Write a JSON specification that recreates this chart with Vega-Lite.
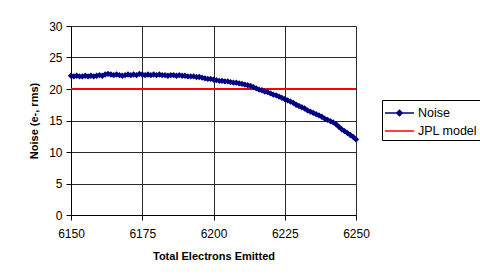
{
  "$schema": "https://vega.github.io/schema/vega-lite/v6.json",
  "autosize": {"type": "none"},
  "width": 285,
  "height": 189,
  "padding": {"left": 71, "top": 26, "right": 124, "bottom": 62},
  "background": "white",
  "config": {
    "font": "Liberation Sans",
    "view": {"stroke": null},
    "axis": {
      "labelFont": "Liberation Sans", "labelFontSize": 12, "labelColor": "#000",
      "titleFont": "Liberation Sans", "titleFontSize": 11, "titleFontWeight": "bold", "titleColor": "#000",
      "domainColor": "#000", "tickColor": "#000", "tickSize": 5,
      "gridColor": "#2a2a2a", "gridOpacity": 1, "gridWidth": 1, "labelFlush": false
    }
  },
  "datasets": {
    "noise": [
      {"x":6150,"y":22.1},{"x":6151,"y":22.0},{"x":6152,"y":22.1},{"x":6153,"y":22.0},{"x":6154,"y":22.0},
      {"x":6155,"y":22.1},{"x":6156,"y":22.0},{"x":6157,"y":22.1},{"x":6158,"y":22.0},{"x":6159,"y":22.1},
      {"x":6160,"y":22.2},{"x":6161,"y":22.1},{"x":6162,"y":22.3},{"x":6163,"y":22.4},{"x":6164,"y":22.3},
      {"x":6165,"y":22.2},{"x":6166,"y":22.3},{"x":6167,"y":22.2},{"x":6168,"y":22.1},{"x":6169,"y":22.2},
      {"x":6170,"y":22.3},{"x":6171,"y":22.2},{"x":6172,"y":22.3},{"x":6173,"y":22.2},{"x":6174,"y":22.4},
      {"x":6175,"y":22.3},{"x":6176,"y":22.2},{"x":6177,"y":22.3},{"x":6178,"y":22.2},{"x":6179,"y":22.3},
      {"x":6180,"y":22.2},{"x":6181,"y":22.3},{"x":6182,"y":22.2},{"x":6183,"y":22.2},{"x":6184,"y":22.1},
      {"x":6185,"y":22.2},{"x":6186,"y":22.2},{"x":6187,"y":22.1},{"x":6188,"y":22.2},{"x":6189,"y":22.1},
      {"x":6190,"y":22.1},{"x":6191,"y":22.0},{"x":6192,"y":22.0},{"x":6193,"y":22.0},{"x":6194,"y":21.9},
      {"x":6195,"y":21.9},{"x":6196,"y":21.8},{"x":6197,"y":21.7},{"x":6198,"y":21.6},{"x":6199,"y":21.6},
      {"x":6200,"y":21.5},{"x":6201,"y":21.4},{"x":6202,"y":21.3},{"x":6203,"y":21.3},{"x":6204,"y":21.2},
      {"x":6205,"y":21.2},{"x":6206,"y":21.1},{"x":6207,"y":21.0},{"x":6208,"y":21.0},{"x":6209,"y":20.9},
      {"x":6210,"y":20.8},{"x":6211,"y":20.7},{"x":6212,"y":20.6},{"x":6213,"y":20.5},{"x":6214,"y":20.3},
      {"x":6215,"y":20.1},{"x":6216,"y":19.9},{"x":6217,"y":19.8},{"x":6218,"y":19.6},{"x":6219,"y":19.5},
      {"x":6220,"y":19.3},{"x":6221,"y":19.1},{"x":6222,"y":19.0},{"x":6223,"y":18.8},{"x":6224,"y":18.6},
      {"x":6225,"y":18.4},{"x":6226,"y":18.2},{"x":6227,"y":18.0},{"x":6228,"y":17.8},{"x":6229,"y":17.5},
      {"x":6230,"y":17.3},{"x":6231,"y":17.1},{"x":6232,"y":16.9},{"x":6233,"y":16.6},{"x":6234,"y":16.4},
      {"x":6235,"y":16.2},{"x":6236,"y":16.0},{"x":6237,"y":15.8},{"x":6238,"y":15.6},{"x":6239,"y":15.3},
      {"x":6240,"y":15.1},{"x":6241,"y":14.9},{"x":6242,"y":14.7},{"x":6243,"y":14.4},{"x":6244,"y":14.0},
      {"x":6245,"y":13.6},{"x":6246,"y":13.3},{"x":6247,"y":13.0},{"x":6248,"y":12.7},{"x":6249,"y":12.4},
      {"x":6250,"y":12.0}
    ],
    "jpl": [
      {"x":6150,"y":20},{"x":6250,"y":20}
    ]
  },
  "encoding": {
    "x": {"field": "x", "type": "quantitative",
      "scale": {"domain": [6150, 6250], "nice": false, "zero": false},
      "axis": {"title": "Total Electrons Emitted", "values": [6150, 6175, 6200, 6225, 6250], "format": "d", "grid": true, "labelPadding": 8, "titlePadding": 11}},
    "y": {"field": "y", "type": "quantitative",
      "scale": {"domain": [0, 30], "nice": false},
      "axis": {"title": "Noise (e-, rms)", "values": [0, 5, 10, 15, 20, 25, 30], "grid": true, "labelPadding": 4, "titlePadding": 9}},
    "color": {"field": "series", "type": "nominal",
      "scale": {"domain": ["Noise", "JPL model"], "range": ["#000080", "#ff0000"]},
      "legend": {
        "title": null, "orient": "none", "legendX": 311, "legendY": 74,
        "strokeColor": "#000", "padding": 2, "fillColor": "white",
        "symbolSize": 400, "symbolStrokeWidth": 1.5,
        "labelFont": "Liberation Sans", "labelFontSize": 12.5, "labelColor": "#000",
        "rowPadding": 0, "labelOffset": 12,
        "encode": {"symbols": {"update": {
          "shape": {"signal": "datum.value === 'Noise' ? 'M-1,0L0.17,0L0.45,-0.28L0.73,0L0.45,0.28L0.17,0ZM0.73,0L1.9,0' : 'M-1,0L1.9,0'"},
          "fill": {"signal": "datum.value === 'Noise' ? '#000080' : 'transparent'"}
        }}}
      }}
  },
  "layer": [
    {
      "data": {"name": "jpl"},
      "transform": [{"calculate": "'JPL model'", "as": "series"}],
      "mark": {"type": "line", "strokeWidth": 2}
    },
    {
      "data": {"name": "noise"},
      "transform": [{"calculate": "'Noise'", "as": "series"}],
      "mark": {"type": "line", "strokeWidth": 3, "point": {"shape": "diamond", "size": 40, "filled": true, "opacity": 1}}
    }
  ]
}
